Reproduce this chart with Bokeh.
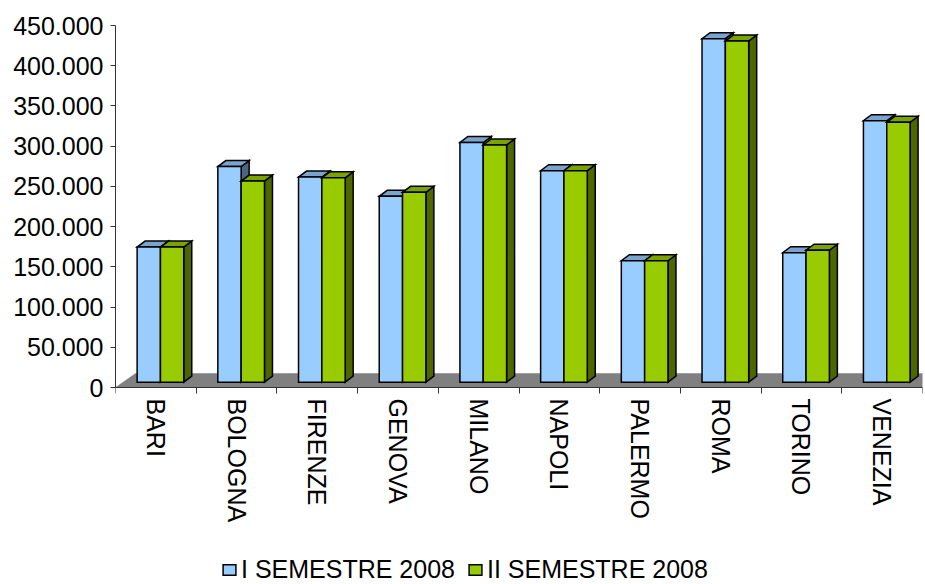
import math
from bokeh.plotting import figure
from bokeh.models import Range1d, FixedTicker, Legend, LegendItem
from bokeh.embed import file_html
from bokeh.resources import INLINE

# ---------------- data ----------------
cities = ["BARI", "BOLOGNA", "FIRENZE", "GENOVA", "MILANO",
          "NAPOLI", "PALERMO", "ROMA", "TORINO", "VENEZIA"]
sem1 = [168000, 268000, 255000, 231000, 298000, 263000, 151000, 427000, 161000, 325000]
sem2 = [168000, 250000, 254000, 236000, 295000, 263000, 151000, 424000, 164000, 323000]
series_names = ["I SEMESTRE 2008", "II SEMESTRE 2008"]
y_ticks = [0, 50000, 100000, 150000, 200000, 250000, 300000, 350000, 400000, 450000]
y_tick_labels = ["0", "50.000", "100.000", "150.000", "200.000",
                 "250.000", "300.000", "350.000", "400.000", "450.000"]

# ---------------- styling / geometry ----------------
FONT = "Liberation Sans"
FS = "25px"
PLOT_W, PLOT_H = 807, 362        # pixels spanned by the category range / 0..Y_MAX
BELOW_PX = 197                   # space under the value axis for labels + legend
N = len(cities)
Y_MAX = y_ticks[-1]


def px_x(px):
    return px * N / PLOT_W


def px_y(px):
    return px * Y_MAX / PLOT_H


FLOOR_DX, FLOOR_DY = px_x(20), px_y(14)
BASE_Y = px_y(5.3)
BAR_DX, BAR_DY = px_x(8), px_y(6)
BAR_LEFT, BAR_W = 0.268, 0.289

colors = {
    "front": ["#99CCFF", "#99CC00"],
    "top": ["#7BA3CC", "#7AA300"],
    "side": ["#4D6680", "#4D6600"],
}

p = figure(frame_width=PLOT_W, frame_height=PLOT_H + BELOW_PX,
           x_range=Range1d(0, N), y_range=Range1d(-px_y(BELOW_PX), Y_MAX),
           output_backend="svg", toolbar_location=None,
           min_border_left=115, min_border_right=3, min_border_top=25,
           min_border_bottom=0)
p.outline_line_color = None
p.xgrid.visible = False
p.ygrid.visible = False
p.background_fill_color = "white"
p.border_fill_color = "white"

# floor
p.patch([0, N, N + FLOOR_DX, FLOOR_DX], [0, 0, FLOOR_DY, FLOOR_DY],
        fill_color="#808080", line_color="#808080", line_width=0.5)

front_renderers = []
for s, vals in enumerate([sem1, sem2]):
    lefts = [i + BAR_LEFT + s * BAR_W for i in range(N)]
    rights = [l + BAR_W for l in lefts]
    tops = [BASE_Y + v for v in vals]
    top_xs = [[l, r, r + BAR_DX, l + BAR_DX] for l, r in zip(lefts, rights)]
    top_ys = [[t, t, t + BAR_DY, t + BAR_DY] for t in tops]
    side_xs = [[r, r + BAR_DX, r + BAR_DX, r] for r in rights]
    side_ys = [[BASE_Y, BASE_Y + BAR_DY, t + BAR_DY, t] for t in tops]
    p.patches(side_xs, side_ys, fill_color=colors["side"][s],
              line_color="black", line_width=1.5, line_join="miter")
    p.patches(top_xs, top_ys, fill_color=colors["top"][s],
              line_color="black", line_width=1.5, line_join="miter")
    r = p.quad(left=lefts, right=rights, bottom=[BASE_Y] * N, top=tops,
               fill_color=colors["front"][s], line_color="black",
               line_width=1.5, line_join="miter")
    front_renderers.append(r)

# y axis
ya = p.yaxis[0]
ya.ticker = FixedTicker(ticks=y_ticks)
ya.bounds = (0, Y_MAX)
ya.major_label_overrides = {t: l for t, l in zip(y_ticks, y_tick_labels)}
ya.minor_tick_line_color = None
ya.major_tick_in = 0
ya.major_tick_out = 5
ya.major_label_standoff = 7
ya.axis_line_color = "#333333"
ya.major_tick_line_color = "#333333"
ya.major_label_text_font = FONT
ya.major_label_text_font_size = FS
ya.major_label_text_color = "black"

# x axis (drawn at value 0)
xa = p.xaxis[0]
xa.fixed_location = 0
centers = [i + 0.5 for i in range(N)]
xa.ticker = FixedTicker(ticks=centers, minor_ticks=list(range(N + 1)))
xa.major_label_overrides = {c: name for c, name in zip(centers, cities)}
xa.major_tick_line_color = None
xa.major_tick_in = 0
xa.major_tick_out = 6
xa.minor_tick_in = 0
xa.minor_tick_out = 6
xa.minor_tick_line_color = "#333333"
xa.axis_line_color = "#333333"
xa.major_label_standoff = 5
xa.major_label_orientation = -math.pi / 2
xa.major_label_text_font = FONT
xa.major_label_text_font_size = FS
xa.major_label_text_color = "black"

legend = Legend(items=[LegendItem(label=series_names[i], renderers=[front_renderers[i]])
                       for i in range(2)],
                location=(106, 0), orientation="horizontal",
                glyph_width=16, glyph_height=13, label_standoff=4, spacing=12,
                padding=0, margin=0, border_line_color=None,
                background_fill_alpha=0,
                label_text_font=FONT, label_text_font_size=FS,
                label_text_color="black")
p.add_layout(legend, "center")

open("out.html", "w").write(file_html(p, INLINE))
